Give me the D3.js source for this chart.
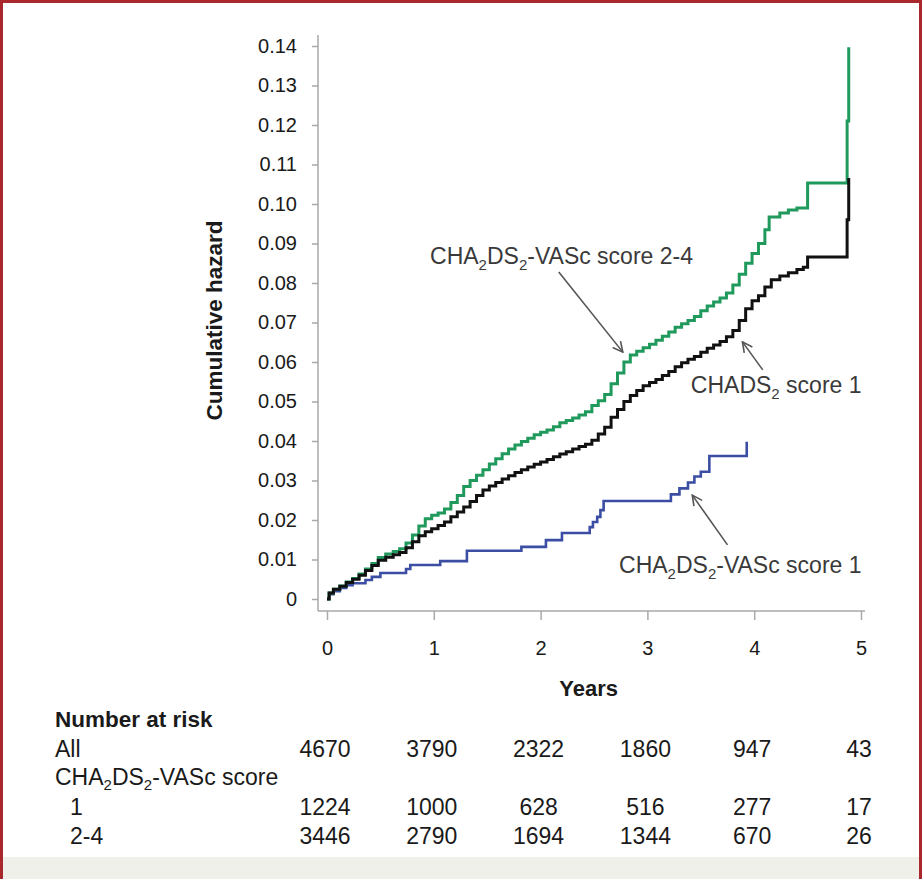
<!DOCTYPE html>
<html><head><meta charset="utf-8">
<script src="https://cdn.jsdelivr.net/npm/d3@7"></script>
<style>
html,body{margin:0;padding:0;background:#fff;}
svg{display:block;font-family:"Liberation Sans",Arial,Helvetica,sans-serif;}
</style></head>
<body>
<svg id="chart" width="922" height="879"></svg>
<script>
// ---------- data ----------
const xTicks = [0, 1, 2, 3, 4, 5];
const yTicks = [0, 0.01, 0.02, 0.03, 0.04, 0.05, 0.06, 0.07, 0.08, 0.09, 0.10, 0.11, 0.12, 0.13, 0.14];

// CHADS2 score 1 (black), [years, cumulative hazard], step-after
const chads1 = [
 [0,0],[0.02,0.0015],[0.06,0.0025],[0.12,0.0032],[0.18,0.0042],[0.24,0.0050],[0.30,0.0060],[0.36,0.0072],
 [0.42,0.0085],[0.48,0.0098],[0.55,0.0106],[0.62,0.0112],[0.68,0.0118],[0.74,0.0130],[0.80,0.0145],[0.86,0.0160],
 [0.92,0.0170],[0.98,0.0178],[1.04,0.0186],[1.10,0.0195],[1.16,0.0208],[1.22,0.0220],[1.28,0.0233],[1.34,0.0247],
 [1.40,0.0262],[1.46,0.0276],[1.52,0.0286],[1.58,0.0295],[1.64,0.0304],[1.70,0.0312],[1.76,0.0320],[1.82,0.0327],
 [1.88,0.0334],[1.94,0.0341],[2.00,0.0347],[2.06,0.0353],[2.12,0.0360],[2.18,0.0367],[2.24,0.0373],[2.30,0.0380],
 [2.36,0.0386],[2.42,0.0392],[2.48,0.0402],[2.54,0.0418],[2.60,0.0435],[2.66,0.0460],[2.72,0.0480],[2.78,0.0500],
 [2.84,0.0515],[2.90,0.0528],[2.96,0.0540],[3.02,0.0548],[3.08,0.0556],[3.14,0.0566],[3.20,0.0576],[3.26,0.0588],
 [3.32,0.0598],[3.38,0.0607],[3.44,0.0614],[3.50,0.0625],[3.56,0.0635],[3.62,0.0643],[3.68,0.0652],[3.74,0.0664],
 [3.80,0.0680],[3.86,0.0705],[3.92,0.0735],[3.98,0.0755],[4.04,0.0768],[4.10,0.0790],[4.16,0.0808],[4.24,0.0818],
 [4.32,0.0826],[4.40,0.0834],[4.46,0.0840],[4.50,0.0866],[4.87,0.0960],[4.885,0.1066],[4.885,0.1066]
];

// CHA2DS2-VASc score 2-4 (green)
const vasc24 = [
 [0,0],[0.02,0.0015],[0.06,0.0025],[0.12,0.0033],[0.18,0.0043],[0.24,0.0052],[0.30,0.0063],[0.36,0.0076],
 [0.42,0.0090],[0.48,0.0105],[0.55,0.0114],[0.62,0.0120],[0.68,0.0127],[0.74,0.0142],[0.80,0.0162],[0.86,0.0185],
 [0.92,0.0203],[0.98,0.0212],[1.04,0.0218],[1.10,0.0228],[1.16,0.0244],[1.22,0.0262],[1.28,0.0285],[1.34,0.0300],
 [1.40,0.0313],[1.46,0.0327],[1.52,0.0342],[1.58,0.0355],[1.64,0.0368],[1.70,0.0380],[1.76,0.0390],[1.82,0.0399],
 [1.88,0.0407],[1.94,0.0416],[2.00,0.0422],[2.06,0.0428],[2.12,0.0436],[2.18,0.0446],[2.24,0.0452],[2.30,0.0458],
 [2.36,0.0466],[2.42,0.0474],[2.48,0.0490],[2.54,0.0502],[2.60,0.0518],[2.66,0.0545],[2.72,0.0572],[2.78,0.0600],
 [2.84,0.0618],[2.90,0.0627],[2.96,0.0636],[3.02,0.0645],[3.08,0.0655],[3.14,0.0665],[3.20,0.0676],[3.26,0.0688],
 [3.32,0.0697],[3.38,0.0705],[3.44,0.0715],[3.50,0.0730],[3.56,0.0742],[3.62,0.0752],[3.68,0.0762],[3.74,0.0775],
 [3.80,0.0795],[3.86,0.0822],[3.92,0.0850],[3.98,0.0875],[4.04,0.0900],[4.10,0.0935],[4.14,0.0967],[4.24,0.0977],
 [4.32,0.0985],[4.40,0.0990],[4.50,0.1053],[4.87,0.1210],[4.885,0.1397],[4.885,0.1397]
];

// CHA2DS2-VASc score 1 (blue)
const vasc1 = [
 [0,0],[0.02,0.0012],[0.06,0.0020],[0.12,0.0028],[0.18,0.0035],[0.24,0.0040],[0.36,0.0048],[0.42,0.0056],
 [0.50,0.0066],[0.74,0.0076],[0.78,0.0086],[1.06,0.0096],[1.31,0.0122],[1.82,0.0132],[2.05,0.0149],[2.20,0.0167],
 [2.46,0.0182],[2.49,0.0195],[2.53,0.0208],[2.56,0.0225],[2.59,0.0248],[3.22,0.0265],[3.30,0.0280],[3.38,0.0295],
 [3.44,0.0310],[3.50,0.0322],[3.58,0.0362],[3.93,0.0398],[3.93,0.0398]
];

// Number at risk
const riskLabels = ["All", "CHA2DS2-VASc score", "1", "2-4"];
const riskAll    = [4670, 3790, 2322, 1860, 947, 43];
const riskVASc1  = [1224, 1000, 628, 516, 277, 17];
const riskVASc24 = [3446, 2790, 1694, 1344, 670, 26];

// Annotations: label parts ([text, isSubscript]), anchor point, arrow from -> to (data units)
const annotations = [
 {parts:[["CHA",0],["2",1],["DS",0],["2",1],["-VASc score 2-4",0]], at:[0.965,0.0848], anchor:"start", from:[2.17,0.0828], to:[2.77,0.0625]},
 {parts:[["CHADS",0],["2",1],[" score 1",0]], at:[5.005,0.0522], anchor:"end", from:[4.08,0.0580], to:[3.89,0.0651]},
 {parts:[["CHA",0],["2",1],["DS",0],["2",1],["-VASc score 1",0]], at:[5.005,0.0066], anchor:"end", from:[3.75,0.0137], to:[3.42,0.0263]}
];

// ---------- drawing ----------
const svg = d3.select("#chart");
const W = 922, H = 879;

svg.append("rect").attr("width", W).attr("height", H).attr("fill", "#fff");
svg.append("rect").attr("x", 0).attr("y", 857).attr("width", W).attr("height", H - 857).attr("fill", "#eef0e9");
svg.append("path").attr("d", `M1.5,${H} V1.5 H${W-1.5} V${H}`).attr("fill", "none")
   .attr("stroke", "#a8282e").attr("stroke-width", 3);

const x = d3.scaleLinear().domain([0, 5]).range([327, 861]);
const y = d3.scaleLinear().domain([0, 0.14]).range([599, 46]);

const axisColor = "#a9a9a9";
const axisLeftX = 318, axisBottomY = 611;
const tickFont = '"Liberation Sans",Arial,sans-serif';

// y axis
const gy = svg.append("g").attr("transform", `translate(${axisLeftX},0)`)
  .call(d3.axisLeft(y).tickValues(yTicks).tickSize(6).tickPadding(15)
        .tickFormat(d => d === 0 ? "0" : d3.format(".2f")(d)));
gy.select(".domain").remove();
gy.append("line").attr("x1", 0).attr("x2", 0).attr("y1", y(0.1428)).attr("y2", axisBottomY)
  .attr("stroke", axisColor).attr("stroke-width", 1.5);
gy.selectAll(".tick line").attr("stroke", axisColor).attr("stroke-width", 1.5);
gy.selectAll(".tick text").attr("fill", "#1a1a1a").style("font-size", "20px").style("font-family", tickFont);

// x axis
const gx = svg.append("g").attr("transform", `translate(0,${axisBottomY})`)
  .call(d3.axisBottom(x).tickValues(xTicks).tickSize(9).tickPadding(21).tickFormat(d3.format("d")));
gx.select(".domain").remove();
gx.append("line").attr("x1", axisLeftX).attr("x2", x(5) + 4).attr("y1", 0).attr("y2", 0)
  .attr("stroke", axisColor).attr("stroke-width", 1.5);
gx.selectAll(".tick line").attr("stroke", axisColor).attr("stroke-width", 1.5);
gx.selectAll(".tick text").attr("fill", "#1a1a1a").style("font-size", "20px").style("font-family", tickFont);

// axis titles
svg.append("text").attr("x", x(2.45)).attr("y", 696).attr("text-anchor", "middle")
  .attr("font-weight", "bold").attr("font-size", 22).attr("fill", "#1a1a1a").text("Years");
svg.append("text").attr("transform", `translate(222,${y(0.0705)}) rotate(-90)`).attr("text-anchor", "middle")
  .attr("font-weight", "bold").attr("font-size", 22.5).attr("fill", "#1a1a1a").text("Cumulative hazard");

// curves
const line = d3.line().x(d => x(d[0])).y(d => y(d[1])).curve(d3.curveStepAfter);
const series = [
  {data: vasc1, color: "#3b4ea3", w: 2.6},
  {data: vasc24, color: "#1f9a5c", w: 3},
  {data: chads1, color: "#111111", w: 3}
];
svg.append("g").selectAll("path").data(series).join("path")
  .attr("d", d => line(d.data)).attr("fill", "none")
  .attr("stroke", d => d.color).attr("stroke-width", d => d.w).attr("stroke-linejoin", "miter");

// annotations
const defs = svg.append("defs");
defs.append("marker").attr("id", "arr").attr("viewBox", "0 0 12 12").attr("refX", 11).attr("refY", 6)
  .attr("markerWidth", 12).attr("markerHeight", 12).attr("markerUnits", "userSpaceOnUse").attr("orient", "auto")
  .append("path").attr("d", "M1,1 L11,6 L1,11").attr("fill", "none").attr("stroke", "#555").attr("stroke-width", 1.6);

const ag = svg.append("g");
annotations.forEach(a => {
  ag.append("line").attr("x1", x(a.from[0])).attr("y1", y(a.from[1]))
    .attr("x2", x(a.to[0])).attr("y2", y(a.to[1]))
    .attr("stroke", "#555").attr("stroke-width", 1.6).attr("marker-end", "url(#arr)");
  const t = ag.append("text").attr("x", x(a.at[0])).attr("y", y(a.at[1]))
    .attr("text-anchor", a.anchor).attr("font-size", 23).attr("fill", "#3a3a3a");
  let prevSub = false;
  a.parts.forEach(p => {
    const ts = t.append("tspan").text(p[0]);
    if (p[1]) ts.attr("font-size", 15).attr("dy", 6);
    else ts.attr("dy", prevSub ? -6 : 0);
    prevSub = !!p[1];
  });
});

// number at risk table
const tg = svg.append("g").attr("font-size", 23).attr("fill", "#1a1a1a");
tg.append("text").attr("x", 55).attr("y", 727).attr("font-weight", "bold").attr("font-size", 22.5).text("Number at risk");
tg.append("text").attr("x", 55).attr("y", 757).text(riskLabels[0]);
const hdr = tg.append("text").attr("x", 55).attr("y", 785);
hdr.append("tspan").text("CHA");
hdr.append("tspan").text("2").attr("font-size", 15).attr("dy", 5);
hdr.append("tspan").text("DS").attr("dy", -5);
hdr.append("tspan").text("2").attr("font-size", 15).attr("dy", 5);
hdr.append("tspan").text("-VASc score").attr("dy", -5);
tg.append("text").attr("x", 70).attr("y", 815).text(riskLabels[2]);
tg.append("text").attr("x", 70).attr("y", 844).text(riskLabels[3]);

const rows = [{vals: riskAll, y: 757}, {vals: riskVASc1, y: 815}, {vals: riskVASc24, y: 844}];
rows.forEach(r => {
  tg.append("g").selectAll("text").data(r.vals).join("text")
    .attr("x", (d, i) => x(xTicks[i]) - 2).attr("y", r.y).attr("text-anchor", "middle").text(d => d);
});
</script>
</body></html>
